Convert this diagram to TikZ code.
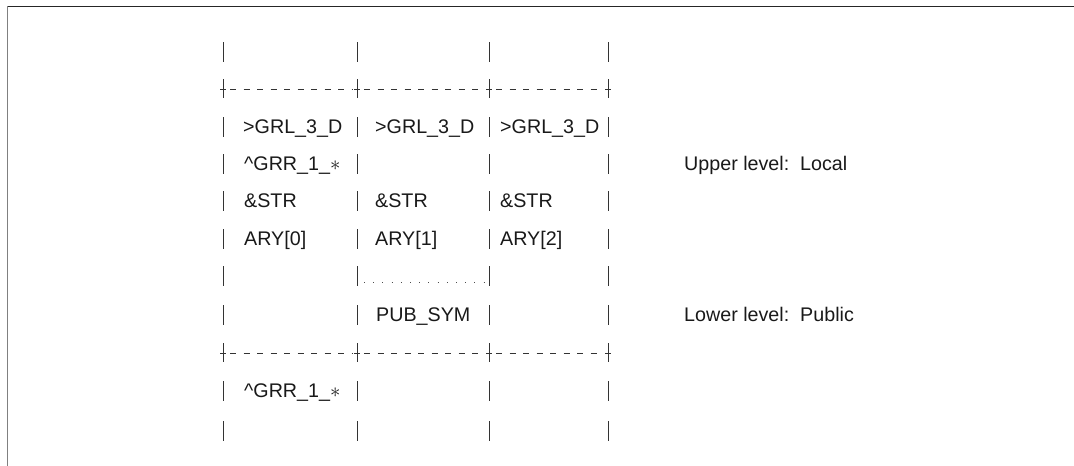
\documentclass[tikz,border=0pt]{standalone}
\usepackage{fontspec}
\setmainfont{Liberation Sans}
\begin{document}
\begin{tikzpicture}[x=1pt,y=-1pt,
  bar/.style={line width=1pt, draw=black!80},
  dashrule/.style={line width=1pt, draw=black!80, dash pattern=on 6pt off 7.5pt},
  dotrule/.style={line width=1pt, draw=black!70, dash pattern=on 1pt off 8.2pt},
  lbl/.style={anchor=base west, inner sep=0pt, text=black!90, font=\fontsize{19.7}{22}\selectfont}]
\useasboundingbox (0,0) rectangle (1074,466);
% frame (top and left)
\draw[line width=1.4pt, black!85] (7,6.5) -- (1074,6.5);
\draw[line width=1.6pt, black!50] (7.5,6) -- (7.5,466);
% rows of column bars
\def\colxs{223,357,489,608}
\foreach \yy in {52,127,164,201,239,276,315,391,431}{
  \foreach \xx in \colxs { \draw[bar] (\xx,\yy-10) -- (\xx,\yy+10); }
}
% dashed rules with crosses
\foreach \yy in {89,353}{
  \foreach \xx in \colxs {
    \draw[bar] (\xx,\yy-10) -- (\xx,\yy+9);
    \draw[bar] (\xx-3,\yy) -- (\xx+3,\yy);
  }
  \draw[dashrule] (230,\yy) -- (353,\yy);
  \draw[dashrule] (364,\yy) -- (485,\yy);
  \draw[dashrule] (496,\yy) -- (604,\yy);
}
% dotted rule
\draw[dotrule] (364,282) -- (486,282);
% texts
\node[lbl] (g1) at (243,133) {>GRL\_3\_D};
\node[lbl] (g2) at (375,133) {>GRL\_3\_D};
\node[lbl] (g3) at (500,133) {>GRL\_3\_D};
\node[lbl] (r1) at (244,170) {\textasciicircum GRR\_1\_$\ast$};
\node[lbl] (s1) at (244,207) {\&STR};
\node[lbl] (s2) at (375,207) {\&STR};
\node[lbl] (s3) at (500,207) {\&STR};
\node[lbl] (a1) at (244,245) {ARY[0]};
\node[lbl] (a2) at (375,245) {ARY[1]};
\node[lbl] (a3) at (500,245) {ARY[2]};
\node[lbl] (pub) at (376,321) {PUB\_SYM};
\node[lbl] (r2) at (244,397) {\textasciicircum GRR\_1\_$\ast$};
\node[lbl] (up) at (684,170) {Upper level:\ \ Local};
\node[lbl] (lo) at (684,321) {Lower level:\ \ Public};
\end{tikzpicture}
\end{document}
